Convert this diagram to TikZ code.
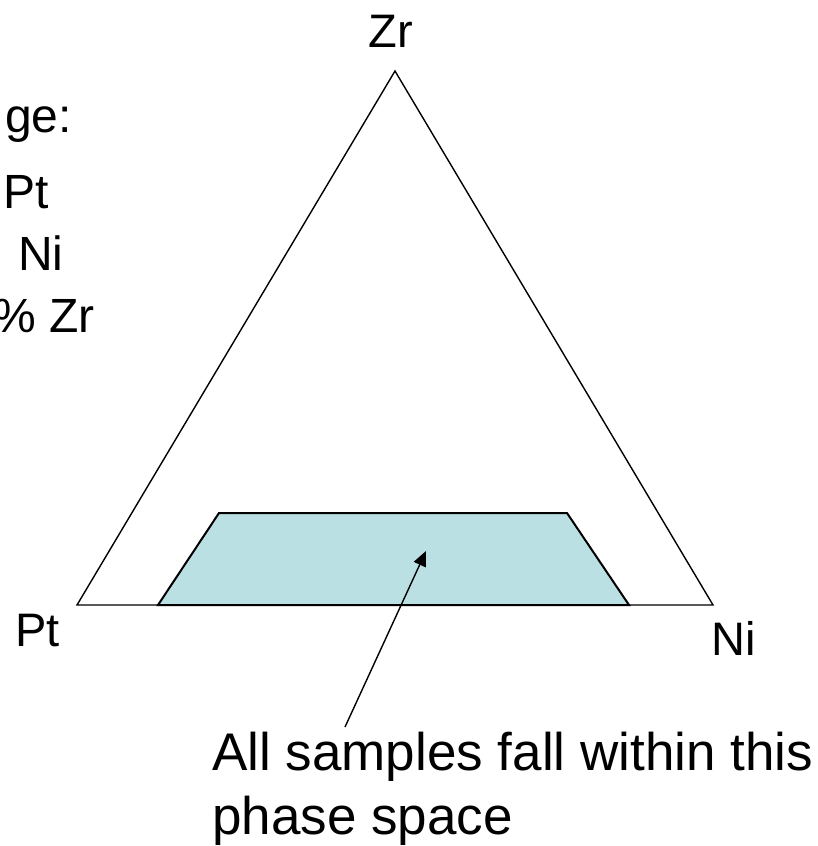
\documentclass[tikz,border=0pt]{standalone}
\usepackage{fontspec}
\setmainfont{Liberation Sans}
\usetikzlibrary{arrows.meta}
\definecolor{phasefill}{RGB}{187,224,227}

\begin{document}
\begin{tikzpicture}[
  x=1pt,y=-1pt,
  cornerlabel/.style={inner sep=0pt,font=\fontsize{47}{56}\selectfont},
  sidetext/.style={inner sep=0pt,font=\fontsize{48}{58}\selectfont},
  note/.style={inner sep=0pt,font=\fontsize{53}{64}\selectfont,align=left},
  triedge/.style={line width=1.4pt,line join=miter},
  arrow/.style={-{Triangle[length=15pt,width=13pt]},line width=1.4pt}
]
\useasboundingbox (0,0) rectangle (818,846);
\clip (0,0) rectangle (818,846);

% Ternary triangle and its corners.
\coordinate (zr) at (395,71);
\coordinate (pt) at (77,605);
\coordinate (ni) at (713,605);
\draw[triedge] (pt) -- (zr) -- (ni) -- cycle;

\node[cornerlabel,anchor=base] (zrLabel) at (391,47) {Zr};
\node[cornerlabel,anchor=base west] (ptLabel) at (15,646) {Pt};
\node[cornerlabel,anchor=base west] (niLabel) at (711,655) {Ni};

% Phase space covered by the samples.
\filldraw[fill=phasefill,line width=2pt,line join=miter]
  (219,513) -- (567,513) -- (629,605) -- (158,605) -- cycle;

% Composition range text, cut at the left edge.
\node[sidetext,anchor=base east] (rangeHead) at (72,132) {ge:};
\node[sidetext,anchor=base west] (rangePt) at (3,208) {Pt};
\node[sidetext,anchor=base west] (rangeNi) at (18,270) {Ni};
\node[sidetext,anchor=base west] (rangeZr) at (-7,332) {\% Zr};

% Note and its pointer.
\node[note,anchor=base west] (note) at (212,834) {All samples fall within this\\phase space};
\coordinate (tail) at (345,727);
\coordinate (tip) at (426,551);
\draw[arrow] (tail) -- (tip);
\end{tikzpicture}
\end{document}
